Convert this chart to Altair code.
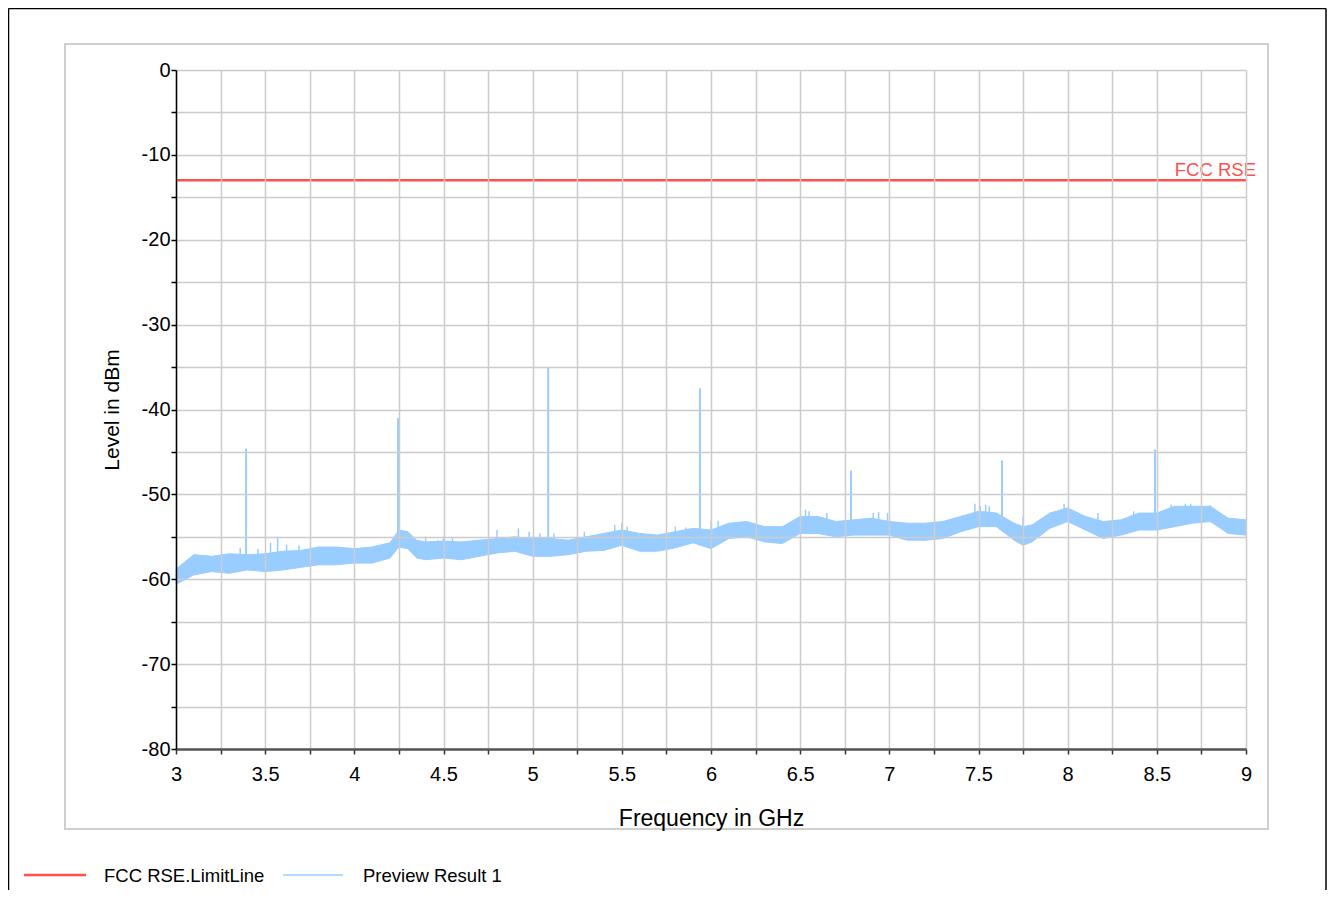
import altair as alt
import pandas as pd

# ---------------- data ----------------
freq_ghz = [3.0, 3.1, 3.2, 3.3, 3.4, 3.5, 3.6, 3.7, 3.8, 3.9, 4.0, 4.1, 4.2, 4.25, 4.3, 4.35, 4.4,
            4.5, 4.6, 4.7, 4.8, 4.9, 5.0, 5.1, 5.2, 5.3, 5.4, 5.5, 5.6, 5.7, 5.8, 5.9, 6.0,
            6.1, 6.2, 6.3, 6.4, 6.5, 6.6, 6.7, 6.8, 6.9, 7.0, 7.1, 7.2, 7.3, 7.4, 7.5,
            7.6, 7.7, 7.75, 7.8, 7.9, 8.0, 8.1, 8.2, 8.3, 8.4, 8.5, 8.6, 8.7, 8.8, 8.9, 9.0]
trace_upper_dbm = [-58.8, -57.1, -57.3, -57.0, -57.1, -57.0, -56.7, -56.6, -56.2, -56.2, -56.4, -56.2,
                   -55.7, -54.2, -54.4, -55.4, -55.6,
                   -55.5, -55.6, -55.4, -55.2, -55.0, -55.2, -55.2, -55.4, -55.0, -54.6, -54.2,
                   -54.6, -54.8, -54.4, -54.0, -54.2,
                   -53.4, -53.2, -53.8, -53.8, -52.6, -52.6, -53.2, -53.0, -52.8, -53.2, -53.4,
                   -53.4, -53.2, -52.6, -52.0,
                   -52.2, -53.4, -53.8, -53.6, -52.2, -51.6, -52.6, -53.2, -53.0, -52.2, -52.2,
                   -51.4, -51.4, -51.4, -52.8, -53.0]
trace_lower_dbm = [-60.6, -59.5, -59.1, -59.3, -58.9, -59.1, -58.9, -58.6, -58.3, -58.3, -58.1, -58.1,
                   -57.5, -56.2, -56.4, -57.5, -57.7,
                   -57.5, -57.7, -57.3, -56.9, -56.7, -57.3, -57.3, -57.1, -56.7, -56.6, -56.0,
                   -56.7, -56.7, -56.3, -55.7, -56.4,
                   -55.2, -55.0, -55.6, -55.8, -54.6, -54.6, -55.0, -54.8, -54.8, -54.8, -55.4,
                   -55.4, -55.2, -54.4, -53.8,
                   -53.8, -55.4, -56.0, -55.6, -54.0, -53.2, -54.2, -55.2, -54.8, -54.2, -54.2,
                   -53.8, -53.4, -53.2, -54.6, -54.8]

spike_freq_ghz = [3.393, 4.245, 5.087, 5.938, 6.785, 7.632, 8.49]
spike_peak_dbm = [-44.6, -41.0, -35.0, -37.5, -47.2, -46.0, -44.7]
spike_base_dbm = [-58.5, -56.0, -57.0, -56.0, -54.8, -53.8, -54.0]

noise_freq_ghz = [3.36, 3.46, 3.53, 3.57, 3.62, 3.69, 4.40, 4.47, 4.50, 4.55, 4.80, 4.92, 4.98,
                  5.04, 5.12, 5.29, 5.46, 5.50, 5.53, 5.80, 5.86, 6.00, 6.04, 6.53, 6.55, 6.65,
                  6.91, 6.94, 6.99, 7.48, 7.51, 7.54, 7.56, 7.75, 7.98, 8.17, 8.37, 8.58, 8.66,
                  8.69, 8.80]
noise_peak_dbm = [-56.3, -56.4, -55.7, -55.0, -55.9, -56.0, -55.0, -55.4, -55.0, -55.0, -54.2,
                  -54.0, -54.4, -54.6, -54.6, -54.4, -53.6, -53.4, -53.8, -53.8, -53.9, -53.2,
                  -53.1, -51.8, -52.0, -52.2, -52.2, -52.1, -52.2, -51.1, -51.4, -51.2, -51.4,
                  -52.6, -51.1, -52.2, -52.0, -51.2, -51.1, -51.1, -51.3]
noise_base_dbm = [-58.0, -58.0, -58.0, -58.0, -57.8, -57.6, -56.6, -56.5, -56.5, -56.6, -56.0,
                  -55.8, -56.2, -56.2, -56.2, -55.8, -55.2, -55.0, -55.2, -55.3, -55.0, -55.3,
                  -54.7, -53.6, -53.6, -53.8, -53.8, -53.9, -53.9, -53.0, -52.9, -52.9, -53.0,
                  -54.8, -52.4, -53.8, -53.4, -52.8, -52.4, -52.4, -52.3]

limit_freq_ghz = [3.0, 9.0]
limit_dbm = [-13.0, -13.0]
limit_label = "FCC RSE"

legend_labels = ["FCC RSE.LimitLine", "Preview Result 1"]

x_tick_values = [3.0, 3.25, 3.5, 3.75, 4.0, 4.25, 4.5, 4.75, 5.0, 5.25, 5.5, 5.75, 6.0,
                 6.25, 6.5, 6.75, 7.0, 7.25, 7.5, 7.75, 8.0, 8.25, 8.5, 8.75, 9.0]
y_tick_values = [-80, -75, -70, -65, -60, -55, -50, -45, -40, -35, -30, -25, -20, -15, -10, -5, 0]

# ---------------- styling ----------------
FONT = "Liberation Sans"
BLUE = "#99ccff"
RED = "#ff4f4f"
W, H = 1070, 679

band_df = pd.DataFrame({"f": freq_ghz, "hi": trace_upper_dbm, "lo": trace_lower_dbm})
spike_df = pd.DataFrame({"f": spike_freq_ghz, "top": spike_peak_dbm, "base": spike_base_dbm})
noise_df = pd.DataFrame({"f": noise_freq_ghz, "top": noise_peak_dbm, "base": noise_base_dbm})
limit_df = pd.DataFrame({"f": limit_freq_ghz, "v": limit_dbm})
label_df = pd.DataFrame({"f": [limit_freq_ghz[-1]], "v": [limit_dbm[-1]], "t": [limit_label]})
one = pd.DataFrame({"k": [0]})

xscale = alt.Scale(domain=[3, 9], nice=False, zero=False)
yscale = alt.Scale(domain=[-80, 0], nice=False, zero=False)

x_axis = alt.Axis(
    values=x_tick_values, format="~g",
    labelExpr="datum.value % 0.5 == 0 ? datum.label : ''",
    tickSize=5, tickWidth=1.5, tickColor="#333333",
    labelPadding=10, labelFontSize=20, labelFont=FONT, labelColor="black",
    labelFlush=False, labelOverlap=False,
    domainColor="#555555", domainWidth=2.5,
    grid=True, gridColor="#cccccc", gridWidth=1.5,
    title="Frequency in GHz", titleFont=FONT, titleFontSize=23, titleFontWeight="normal",
    titleColor="black", titleY=76, titleBaseline="alphabetic", zindex=1,
)
y_axis = alt.Axis(
    values=y_tick_values,
    labelExpr="datum.value % 10 == 0 ? '' + datum.value : ''",
    tickSize=5, tickWidth=1.5, tickColor="black",
    labelPadding=1, labelFontSize=20, labelFont=FONT, labelColor="black",
    labelFlush=False, labelOverlap=False,
    domainColor="black", domainWidth=1.5,
    grid=True, gridColor="#cccccc", gridWidth=1.5,
    title="Level in dBm", titleFont=FONT, titleFontSize=21, titleFontWeight="normal",
    titleColor="black", titleX=-58, titleBaseline="alphabetic", titleAngle=270, zindex=1,
)

frame = alt.Chart(one).mark_rect(fill="white", fillOpacity=0, stroke="#cfcfcf", strokeWidth=2).encode(
    x=alt.value(-111), x2=alt.value(1092), y=alt.value(-26), y2=alt.value(759))

border_l = alt.Chart(one).mark_rule(color="black", strokeWidth=1.5).encode(
    x=alt.value(-167.5), y=alt.value(-61.5), y2=alt.value(820))
border_r = alt.Chart(one).mark_rule(color="black", strokeWidth=1.5).encode(
    x=alt.value(1150), y=alt.value(-61.5), y2=alt.value(820))
border_t = alt.Chart(one).mark_rule(color="black", strokeWidth=1.5).encode(
    x=alt.value(-167.5), x2=alt.value(1150), y=alt.value(-61.5))

band = alt.Chart(band_df).mark_area(color=BLUE, opacity=1, stroke=BLUE, strokeWidth=1).encode(
    x=alt.X("f:Q", scale=xscale, axis=x_axis),
    y=alt.Y("hi:Q", scale=yscale, axis=y_axis),
    y2="lo:Q",
)
noise = alt.Chart(noise_df).mark_rule(color=BLUE, strokeWidth=1.5).encode(
    x="f:Q", y="top:Q", y2="base:Q")
spikes = alt.Chart(spike_df).mark_rule(color=BLUE, strokeWidth=2).encode(
    x="f:Q", y="top:Q", y2="base:Q")

limit = alt.Chart(limit_df).mark_line(color=RED, strokeWidth=2.5).encode(x="f:Q", y="v:Q")
limit_text = alt.Chart(label_df).mark_text(
    align="right", baseline="alphabetic", dx=10, dy=-4, fontSize=18.5, font=FONT, color=RED
).encode(x="f:Q", y="v:Q", text="t:N")

# legend (bottom of the page)
leg_y = 805
leg1_line = alt.Chart(one).mark_rule(color=RED, strokeWidth=2.5).encode(
    x=alt.value(-152), x2=alt.value(-90), y=alt.value(leg_y))
leg1_text = alt.Chart(one).mark_text(align="left", baseline="middle", fontSize=18.5, font=FONT,
                                     color="black").encode(
    x=alt.value(-72), y=alt.value(leg_y + 1), text=alt.value(legend_labels[0]))
leg2_line = alt.Chart(one).mark_rule(color=BLUE, strokeWidth=1.5).encode(
    x=alt.value(107), x2=alt.value(167), y=alt.value(leg_y))
leg2_text = alt.Chart(one).mark_text(align="left", baseline="middle", fontSize=18.5, font=FONT,
                                     color="black").encode(
    x=alt.value(187), y=alt.value(leg_y + 1), text=alt.value(legend_labels[1]))

chart = alt.layer(
    frame, border_l, border_r, border_t,
    band, noise, spikes, limit, limit_text,
    leg1_line, leg1_text, leg2_line, leg2_text,
).properties(
    width=W, height=H,
    padding={"left": 168, "top": 62, "right": 81, "bottom": 141},
    autosize=alt.AutoSizeParams(type="none"),
    background="white",
).configure_view(strokeWidth=0)

chart.save("out.html", embed_options={"renderer": "svg", "actions": False})
